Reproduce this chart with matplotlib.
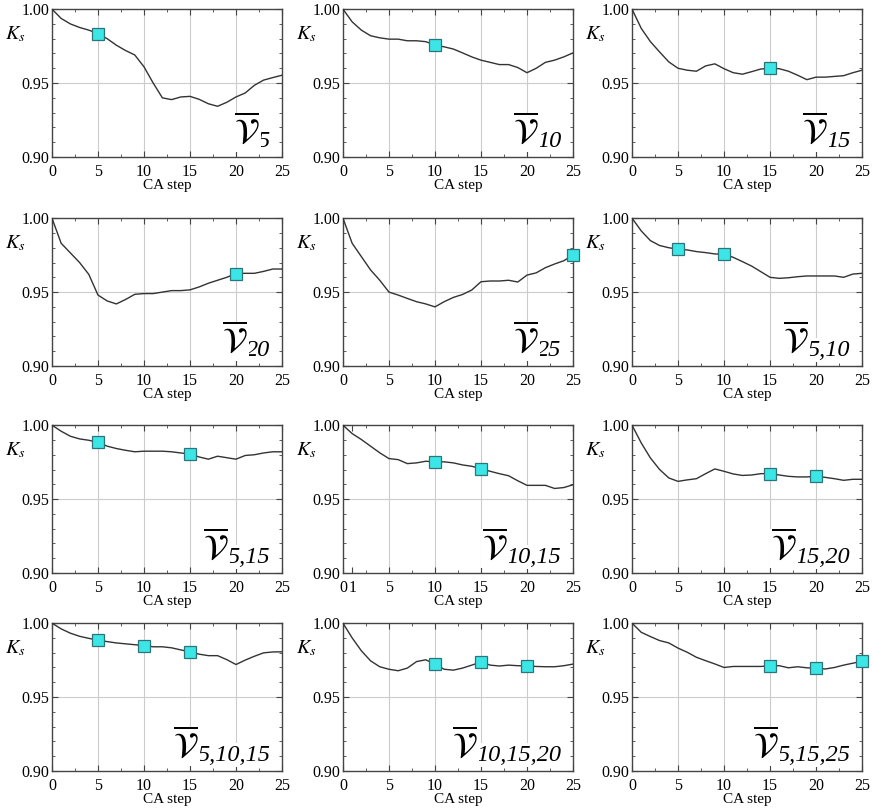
import numpy as np
import matplotlib
matplotlib.use('Agg')
import matplotlib.pyplot as plt
from matplotlib.ticker import MultipleLocator, FixedLocator, FormatStrFormatter

plt.rcParams['font.family'] = ['Liberation Serif', 'DejaVu Serif']
plt.rcParams['mathtext.fontset'] = 'stix'

# K_s against CA step, one curve per filter combination
steps = np.arange(26)

ks_v5 = [1.000, 0.9937, 0.990, 0.9876, 0.9858, 0.9835, 0.980, 0.9756, 0.972, 0.969,
         0.961, 0.950, 0.940, 0.9388, 0.9406, 0.941, 0.939, 0.936, 0.9343, 0.937,
         0.9406, 0.9433, 0.9485, 0.952, 0.9537, 0.9553]
ks_v10 = [1.000, 0.9914, 0.9858, 0.982, 0.9806, 0.9797, 0.9797, 0.9786, 0.9786, 0.978,
          0.9757, 0.9745, 0.973, 0.9704, 0.9677, 0.9655, 0.964, 0.9625, 0.9625, 0.9605,
          0.957, 0.960, 0.964, 0.9655, 0.9677, 0.9704]
ks_v15 = [1.000, 0.987, 0.978, 0.971, 0.9643, 0.960, 0.9587, 0.958, 0.9616, 0.963,
          0.9597, 0.957, 0.956, 0.9577, 0.9595, 0.960, 0.9597, 0.958, 0.9553, 0.9523,
          0.954, 0.954, 0.9545, 0.955, 0.957, 0.9587]
ks_v20 = [1.000, 0.983, 0.9765, 0.970, 0.962, 0.948, 0.944, 0.942, 0.945, 0.9485,
          0.949, 0.949, 0.950, 0.951, 0.951, 0.9515, 0.9535, 0.956, 0.958, 0.960,
          0.9625, 0.9627, 0.9627, 0.964, 0.9656, 0.9656]
ks_v25 = [1.000, 0.983, 0.974, 0.965, 0.958, 0.950, 0.948, 0.9457, 0.9435, 0.942,
          0.940, 0.9435, 0.9464, 0.9484, 0.9514, 0.957, 0.9575, 0.9575, 0.958, 0.9568,
          0.9615, 0.963, 0.9665, 0.969, 0.9712, 0.975]
ks_v5_10 = [1.000, 0.9914, 0.9848, 0.9815, 0.980, 0.979, 0.9785, 0.9774, 0.9767, 0.9758,
            0.9756, 0.9735, 0.9706, 0.9676, 0.9638, 0.960, 0.9593, 0.9597, 0.9604, 0.9609,
            0.9609, 0.9609, 0.9609, 0.960, 0.9622, 0.9627]
ks_v5_15 = [1.000, 0.9959, 0.9925, 0.9907, 0.9898, 0.9884, 0.9858, 0.9842, 0.983, 0.982,
            0.9824, 0.9824, 0.9824, 0.982, 0.9812, 0.9805, 0.9785, 0.977, 0.979, 0.978,
            0.977, 0.9795, 0.980, 0.9812, 0.982, 0.982]
ks_v10_15 = [1.000, 0.9943, 0.9903, 0.9858, 0.9813, 0.9774, 0.9767, 0.974, 0.9745, 0.9756,
             0.9752, 0.9752, 0.9745, 0.9731, 0.9722, 0.9706, 0.9688, 0.9672, 0.9658, 0.9624,
             0.9593, 0.9593, 0.9593, 0.9572, 0.9578, 0.9597]
ks_v15_20 = [1.000, 0.988, 0.9778, 0.970, 0.9643, 0.962, 0.963, 0.9638, 0.9672, 0.9704,
             0.9688, 0.967, 0.966, 0.9663, 0.9672, 0.9673, 0.9663, 0.9654, 0.965, 0.965,
             0.9654, 0.9647, 0.9638, 0.9627, 0.9634, 0.9634]
ks_v5_10_15 = [1.000, 0.9961, 0.9932, 0.9911, 0.9897, 0.9885, 0.9875, 0.9866, 0.986, 0.9854,
               0.9848, 0.984, 0.984, 0.9833, 0.9819, 0.9806, 0.979, 0.978, 0.978, 0.9753,
               0.972, 0.975, 0.9776, 0.9799, 0.9805, 0.9806]
ks_v10_15_20 = [1.000, 0.990, 0.9813, 0.9745, 0.9705, 0.9688, 0.9678, 0.9696, 0.974, 0.9752,
                0.9723, 0.9688, 0.9682, 0.9696, 0.9716, 0.9737, 0.9716, 0.971, 0.9716, 0.9712,
                0.971, 0.9707, 0.9705, 0.9705, 0.9712, 0.9723]
ks_v5_15_25 = [1.000, 0.9938, 0.9909, 0.9882, 0.9866, 0.9831, 0.9803, 0.9769, 0.9746, 0.9724,
               0.970, 0.9707, 0.9707, 0.9707, 0.9707, 0.9712, 0.9712, 0.9698, 0.9705, 0.9698,
               0.9694, 0.969, 0.970, 0.9716, 0.9729, 0.9742]

panels = [
    (ks_v5, [5], '5'),
    (ks_v10, [10], '10'),
    (ks_v15, [15], '15'),
    (ks_v20, [20], '20'),
    (ks_v25, [25], '25'),
    (ks_v5_10, [5, 10], '5,10'),
    (ks_v5_15, [5, 15], '5,15'),
    (ks_v10_15, [10, 15], '10,15'),
    (ks_v15_20, [15, 20], '15,20'),
    (ks_v5_10_15, [5, 10, 15], '5,10,15'),
    (ks_v10_15_20, [10, 15, 20], '10,15,20'),
    (ks_v5_15_25, [15, 20, 25], '5,15,25'),
]

fig = plt.figure(figsize=(8.72, 8.08), dpi=100)
lefts = [0.0596, 0.3933, 0.7248]
bottoms = [0.8057, 0.547, 0.2908, 0.0458]
w, h = 0.2638, 0.183

for i, (vals, marked, sub) in enumerate(panels):
    ax = fig.add_axes([lefts[i % 3], bottoms[i // 3], w, h])
    vals = np.array(vals)
    ax.plot(steps, vals, color='#333333', lw=1.0, zorder=3)
    ax.plot(steps[marked], vals[marked], 's', ms=8.5, mfc='#3de6e6',
            mec='#2d7478', mew=0.9, clip_on=False, zorder=5)
    ax.set_xlim(0, 25)
    ax.set_ylim(0.90, 1.00)
    if sub == '10,15':
        ax.xaxis.set_major_locator(FixedLocator([0, 1, 5, 10, 15, 20, 25]))
    else:
        ax.xaxis.set_major_locator(MultipleLocator(5))
    ax.xaxis.set_minor_locator(MultipleLocator(2.5))
    ax.yaxis.set_major_locator(MultipleLocator(0.05))
    ax.yaxis.set_minor_locator(MultipleLocator(0.01))
    ax.yaxis.set_major_formatter(FormatStrFormatter('%.2f'))
    for v in [5, 10, 15, 20]:
        ax.axvline(v, color='#cccccc', lw=0.8, zorder=1)
    ax.axhline(0.95, color='#cccccc', lw=0.8, zorder=1)
    ax.tick_params(which='both', direction='in', top=True, right=True,
                   labelsize=11.5, color='#444444')
    ax.tick_params(axis='x', pad=5)
    ax.tick_params(axis='y', pad=2)
    ax.tick_params(which='major', length=4.5)
    ax.tick_params(which='minor', length=2.5)
    for s in ax.spines.values():
        s.set_color('#444444')
        s.set_linewidth(1.0)
    ax.set_xlabel('CA step', fontsize=11, labelpad=-1)
    ax.text(-0.16, 0.83, r'$K_s$', transform=ax.transAxes, fontsize=14.5,
            ha='center', va='center')
    # filter label: italic subscript, barred calligraphic V to its left
    st = ax.text(0.948, 0.07, sub, transform=ax.transAxes, fontsize=17.5,
                 fontstyle='italic', ha='right', va='baseline', zorder=4,
                 bbox=dict(facecolor='white', edgecolor='none', pad=1))
    ax.annotate(r'$\overline{\mathcal{V}}$', xy=(0.0, 0.0), xycoords=st,
                xytext=(1, 1), textcoords='offset points', fontsize=25,
                ha='right', va='bottom', zorder=4,
                bbox=dict(facecolor='white', edgecolor='none', pad=1))

fig.savefig('out.png', dpi=100)
